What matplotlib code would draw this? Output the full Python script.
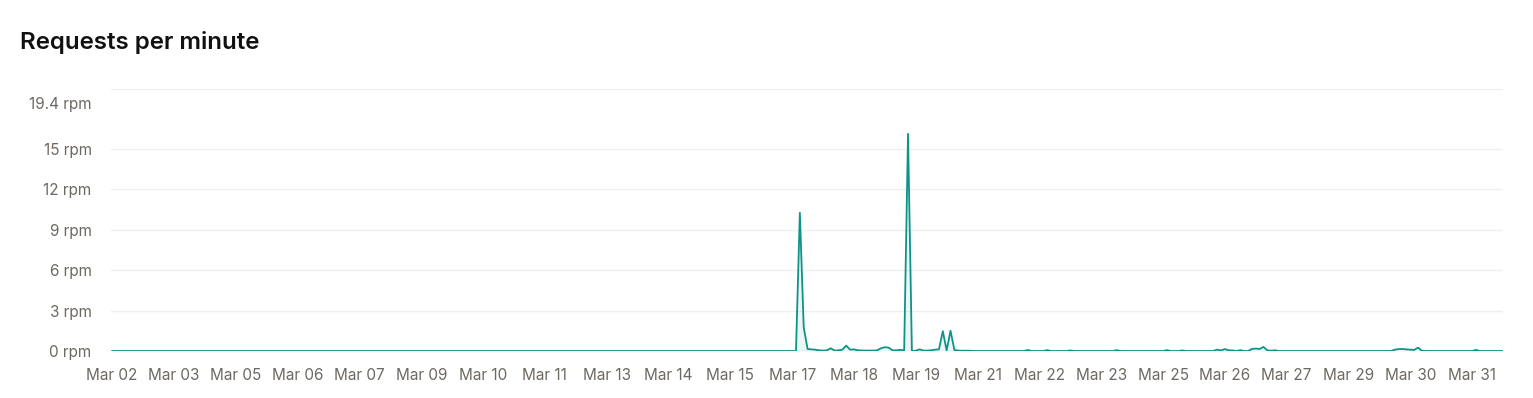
import matplotlib.pyplot as plt
import matplotlib.transforms as mtransforms

# time buckets: 361 points, one label every 16 buckets
tick_labels = ["Mar 02", "Mar 03", "Mar 05", "Mar 06", "Mar 07", "Mar 09", "Mar 10",
               "Mar 11", "Mar 13", "Mar 14", "Mar 15", "Mar 17", "Mar 18", "Mar 19",
               "Mar 21", "Mar 22", "Mar 23", "Mar 25", "Mar 26", "Mar 27", "Mar 29",
               "Mar 30", "Mar 31"]
tick_every = 16

# quiet period before Mar 17 (indices 0-176)
rpm_quiet = [0.0] * 177
# Mar 17 - Mar 20 activity (indices 177-219)
rpm_spikes = [0.0, 10.25, 1.75, 0.15, 0.12, 0.1, 0.05, 0.03, 0.05, 0.2,
              0.03, 0.05, 0.1, 0.4, 0.1, 0.12, 0.05, 0.04, 0.03, 0.03,
              0.03, 0.05, 0.2, 0.28, 0.25, 0.05, 0.05, 0.08, 0.05, 16.1,
              0.0, 0.02, 0.12, 0.03, 0.03, 0.05, 0.1, 0.12, 1.47, 0.05,
              1.5, 0.08, 0.03]
# tail (indices 220-360)
rpm_tail = [0.02, 0.02, 0.02, 0, 0, 0, 0, 0, 0, 0,
            0, 0, 0, 0, 0, 0, 0, 0.07, 0, 0,
            0, 0, 0.06, 0, 0, 0, 0, 0, 0.04, 0,
            0, 0, 0, 0, 0, 0, 0, 0, 0, 0,
            0.06, 0, 0, 0, 0, 0, 0, 0, 0, 0,
            0, 0, 0, 0.06, 0, 0, 0, 0.04, 0, 0,
            0, 0, 0, 0, 0, 0, 0.1, 0.04, 0.14, 0.05,
            0.04, 0, 0.06, 0, 0, 0.15, 0.18, 0.15, 0.3, 0.05,
            0.02, 0.05, 0, 0, 0, 0, 0, 0, 0, 0,
            0, 0, 0, 0, 0, 0, 0, 0, 0, 0,
            0, 0, 0, 0, 0, 0, 0, 0, 0, 0,
            0, 0, 0.1, 0.14, 0.15, 0.12, 0.1, 0.08, 0.25, 0.02,
            0, 0, 0, 0, 0, 0, 0, 0, 0, 0,
            0, 0, 0, 0.08, 0, 0, 0, 0, 0, 0,
            0]

y_ticks = [0, 3, 6, 9, 12, 15]
y_max = 19.4

rpm = rpm_quiet + rpm_spikes + rpm_tail
x = list(range(len(rpm)))

plt.rcParams['font.family'] = ['Inter', 'DejaVu Sans']

fig = plt.figure(figsize=(15.33, 3.98), dpi=100)
ax = fig.add_axes([111 / 1533, 1 - 351 / 398, (1503 - 111) / 1533, (351 - 89.3) / 398])

line_color = "#0d9488"
ax.fill_between(x, rpm, 0, color=line_color, alpha=0.08, linewidth=0)
ax.plot(x, rpm, color=line_color, linewidth=1.3)

ax.set_xlim(-0.3, len(rpm) - 1)
ax.set_ylim(0, y_max)

ax.set_xticks(range(0, len(rpm), tick_every)[:len(tick_labels)])
ax.set_xticklabels(tick_labels)
ax.set_yticks(y_ticks + [y_max])
ax.set_yticklabels([f"{v} rpm" for v in y_ticks] + [""])

lbl_color = "#6e6862"
ax.tick_params(axis='both', length=0, labelsize=11, labelcolor=lbl_color)
ax.tick_params(axis='x', pad=12)
ax.tick_params(axis='y', pad=14)
for s in ax.spines.values():
    s.set_visible(False)
ax.grid(axis='y', color="#efefef", linewidth=1)
ax.set_axisbelow(True)

# the top label sits a little below its gridline
off = mtransforms.ScaledTranslation(-14 / 72, -11 / 72, fig.dpi_scale_trans)
ax.text(0, y_max, f"{y_max} rpm", transform=ax.get_yaxis_transform() + off,
        ha='right', va='center', fontsize=11, color=lbl_color)

fig.text(20 / 1533, 1 - 43 / 398, "Requests per minute", fontsize=17.3,
         fontweight='semibold', color="#111111", va='center', ha='left')

fig.savefig("out.png", dpi=100, facecolor="white")
